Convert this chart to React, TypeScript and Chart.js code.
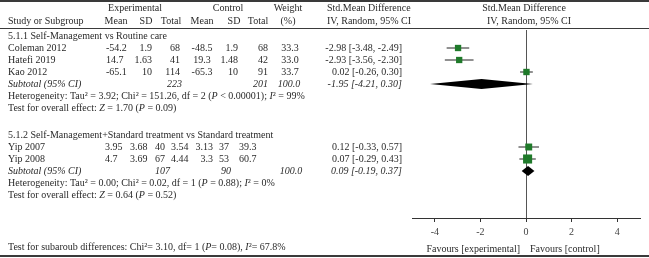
import React, { useEffect, useRef } from 'react';
import { Chart, registerables } from 'chart.js';
Chart.register(...registerables);

// ---------- data ----------
const subgroupTitles = [
  '5.1.1 Self-Management vs Routine care',
  '5.1.2 Self-Management+Standard treatment vs Standard treatment',
];
const studies = ['Coleman 2012', 'Hatefi 2019', 'Kao 2012', 'Yip 2007', 'Yip 2008'];
const studyGroup = [0, 0, 0, 1, 1];
const expMean = ['-54.2', '14.7', '-65.1', '3.95', '4.7'];
const expSD = ['1.9', '1.63', '10', '3.68', '3.69'];
const expTotal = [68, 41, 114, 40, 67];
const ctrlMean = ['-48.5', '19.3', '-65.3', '3.54', '4.44'];
const ctrlSD = ['1.9', '1.48', '10', '3.13', '3.3'];
const ctrlTotal = [68, 42, 91, 37, 53];
const weight = [33.3, 33.0, 33.7, 39.3, 60.7];
const smd = [-2.98, -2.93, 0.02, 0.12, 0.07];
const ciLow = [-3.48, -3.56, -0.26, -0.33, -0.29];
const ciHigh = [-2.49, -2.3, 0.3, 0.57, 0.43];

const subExpTotal = [223, 107];
const subCtrlTotal = [201, 90];
const subSmd = [-1.95, 0.09];
const subLow = [-4.21, -0.19];
const subHigh = [0.3, 0.37];
const heterogeneity = [
  'Heterogeneity: Tau² = 3.92; Chi² = 151.26, df = 2 (*P* < 0.00001); *I*² = 99%',
  'Heterogeneity: Tau² = 0.00; Chi² = 0.02, df = 1 (*P* = 0.88); *I*² = 0%',
];
const overallEffect = [
  'Test for overall effect: *Z* = 1.70 (*P* = 0.09)',
  'Test for overall effect: *Z* = 0.64 (*P* = 0.52)',
];
const subgroupTest = 'Test for subaroub differences: Chi²= 3.10, df= 1 (*P*= 0.08), *I*²= 67.8%';
const xTicks = [-4, -2, 0, 2, 4];

// ---------- layout ----------
const W = 649;
const H = 258;
const FONT = '"Liberation Serif", "DejaVu Serif", serif';
const FS = 10;
const TEXT = '#2a2a2a';
const GREEN = '#1f7a2a';
const groupBase = [0.5, 8.75];
const Y_MAX = 188 / 12;

type Col = { x: number; a: CanvasTextAlign };
const colsByGroup: Col[][] = [
  [
    { x: 106, a: 'left' },
    { x: 152, a: 'right' },
    { x: 180, a: 'right' },
    { x: 202, a: 'center' },
    { x: 238, a: 'right' },
    { x: 268, a: 'right' },
    { x: 290, a: 'center' },
  ],
  [
    { x: 105, a: 'left' },
    { x: 130, a: 'left' },
    { x: 155, a: 'left' },
    { x: 171, a: 'left' },
    { x: 213, a: 'right' },
    { x: 219, a: 'left' },
    { x: 239, a: 'left' },
  ],
];
const subCols: Col[][] = [
  [
    { x: 182, a: 'right' },
    { x: 268, a: 'right' },
    { x: 289, a: 'center' },
  ],
  [
    { x: 155, a: 'left' },
    { x: 221, a: 'left' },
    { x: 291, a: 'center' },
  ],
];

function studyRow(i: number) {
  const g = studyGroup[i];
  const idx = studyGroup.slice(0, i).filter((v) => v === g).length;
  return groupBase[g] + 1 + idx;
}
function groupCount(g: number) {
  return studyGroup.filter((v) => v === g).length;
}
function fmt(v: number) {
  return v.toFixed(2);
}
function ciText(e: number, l: number, h: number) {
  return `${fmt(e)} [${fmt(l)}, ${fmt(h)}]`;
}

function setFont(ctx: CanvasRenderingContext2D, italic: boolean) {
  ctx.font = `${italic ? 'italic ' : ''}${FS}px ${FONT}`;
}

function drawRich(
  ctx: CanvasRenderingContext2D,
  str: string,
  x: number,
  y: number,
  align: CanvasTextAlign = 'left',
  baseItalic = false
) {
  const parts = str.split('*');
  let total = 0;
  parts.forEach((p, i) => {
    setFont(ctx, baseItalic !== (i % 2 === 1));
    total += ctx.measureText(p).width;
  });
  let cx = x;
  if (align === 'center') cx = x - total / 2;
  else if (align === 'right') cx = x - total;
  ctx.textAlign = 'left';
  ctx.textBaseline = 'middle';
  ctx.fillStyle = TEXT;
  parts.forEach((p, i) => {
    setFont(ctx, baseItalic !== (i % 2 === 1));
    ctx.fillText(p, cx, y + 0.5);
    cx += ctx.measureText(p).width;
  });
}

const tablePlugin = {
  id: 'forestTable',
  afterDatasetsDraw(chart: any) {
    const ctx: CanvasRenderingContext2D = chart.ctx;
    const xs = chart.scales.x;
    const ys = chart.scales.y;
    ctx.save();
    ctx.fillStyle = '#000';
    subSmd.forEach((e, g) => {
      const yy = ys.getPixelForValue(groupBase[g] + 1 + groupCount(g));
      const l = xs.getPixelForValue(subLow[g]);
      const h = xs.getPixelForValue(subHigh[g]);
      const c = xs.getPixelForValue(e);
      ctx.beginPath();
      ctx.moveTo(l, yy);
      ctx.lineTo(c, yy - 5);
      ctx.lineTo(h, yy);
      ctx.lineTo(c, yy + 5);
      ctx.closePath();
      ctx.fill();
    });
    ctx.restore();
  },
  afterDraw(chart: any) {
    const ctx: CanvasRenderingContext2D = chart.ctx;
    const ys = chart.scales.y;
    ctx.save();
    // rules
    ctx.fillStyle = '#3a3a3a';
    ctx.fillRect(0, 0, W, 2);
    ctx.fillRect(0, 28, W, 1);
    ctx.fillRect(0, 255, W, 2);

    // header
    drawRich(ctx, 'Experimental', 135, 8, 'center');
    drawRich(ctx, 'Control', 228, 8, 'center');
    drawRich(ctx, 'Weight', 288, 8, 'center');
    drawRich(ctx, 'Std.Mean Difference', 327, 8, 'left');
    drawRich(ctx, 'Std.Mean Difference', 524, 8, 'center');
    drawRich(ctx, 'Study or Subgroup', 8, 21, 'left');
    drawRich(ctx, 'Mean', 116, 21, 'center');
    drawRich(ctx, 'SD', 146, 21, 'center');
    drawRich(ctx, 'Total', 171, 21, 'center');
    drawRich(ctx, 'Mean', 202, 21, 'center');
    drawRich(ctx, 'SD', 234, 21, 'center');
    drawRich(ctx, 'Total', 258, 21, 'center');
    drawRich(ctx, '(%)', 288, 21, 'center');
    drawRich(ctx, 'IV, Random, 95% CI', 327, 21, 'left');
    drawRich(ctx, 'IV, Random, 95% CI', 529, 21, 'center');

    // groups
    subgroupTitles.forEach((t, g) => {
      const base = groupBase[g];
      drawRich(ctx, t, 8, ys.getPixelForValue(base), 'left');
      const n = groupCount(g);
      const sy = ys.getPixelForValue(base + 1 + n);
      drawRich(ctx, 'Subtotal (95% CI)', 8, sy, 'left', true);
      const sc = subCols[g];
      drawRich(ctx, String(subExpTotal[g]), sc[0].x, sy, sc[0].a, true);
      drawRich(ctx, String(subCtrlTotal[g]), sc[1].x, sy, sc[1].a, true);
      drawRich(ctx, '100.0', sc[2].x, sy, sc[2].a, true);
      drawRich(ctx, ciText(subSmd[g], subLow[g], subHigh[g]), 402, sy, 'right', true);
      drawRich(ctx, heterogeneity[g], 8, ys.getPixelForValue(base + 2 + n), 'left');
      drawRich(ctx, overallEffect[g], 8, ys.getPixelForValue(base + 3 + n), 'left');
    });

    // studies
    studies.forEach((s, i) => {
      const y = ys.getPixelForValue(studyRow(i));
      const c = colsByGroup[studyGroup[i]];
      const vals = [
        expMean[i],
        expSD[i],
        String(expTotal[i]),
        ctrlMean[i],
        ctrlSD[i],
        String(ctrlTotal[i]),
        weight[i].toFixed(1),
      ];
      drawRich(ctx, s, 8, y, 'left');
      vals.forEach((v, k) => drawRich(ctx, v, c[k].x, y, c[k].a));
      drawRich(ctx, ciText(smd[i], ciLow[i], ciHigh[i]), 402, y, 'right');
    });

    drawRich(ctx, subgroupTest, 8, 247, 'left');
    drawRich(ctx, 'Favours [experimental]', 520, 248.5, 'right');
    drawRich(ctx, 'Favours [control]', 530, 248.5, 'left');
    ctx.restore();
  },
};

export default function App() {
  const ref = useRef<HTMLCanvasElement>(null);
  useEffect(() => {
    document.body.style.margin = '0';
    const canvas = ref.current!;
    const points = studies.map((_, i) => ({ x: smd[i], y: studyRow(i) }));
    const radii = weight.map((w) => (3 + w * 0.1) / Math.SQRT2);
    const whiskers = studies.map((s, i) => ({
      type: 'line' as const,
      label: s + ' CI',
      data: [
        { x: ciLow[i], y: studyRow(i) },
        { x: ciHigh[i], y: studyRow(i) },
      ],
      borderColor: '#222',
      borderWidth: 1,
      pointRadius: 0,
      showLine: true,
      order: 2,
    }));
    const chart = new Chart(canvas, {
      type: 'scatter',
      data: {
        datasets: [
          {
            label: 'SMD',
            data: points,
            pointStyle: 'rect',
            pointRadius: radii,
            pointBackgroundColor: GREEN,
            pointBorderColor: GREEN,
            pointBorderWidth: 0,
            order: 1,
          } as any,
          ...whiskers,
        ],
      },
      options: {
        responsive: false,
        animation: false,
        devicePixelRatio: 1,
        events: [],
        layout: { padding: { left: 412, right: 9, top: 30, bottom: 16 } },
        plugins: { legend: { display: false }, tooltip: { enabled: false } },
        scales: {
          x: {
            type: 'linear',
            min: -5,
            max: 5,
            afterBuildTicks: (scale: any) => {
              scale.ticks = xTicks.map((v) => ({ value: v }));
            },
            grid: {
              drawOnChartArea: true,
              drawTicks: true,
              tickLength: 4,
              color: (c: any) => (c.tick && c.tick.value === 0 ? '#555' : 'rgba(0,0,0,0)'),
              tickColor: '#333',
              lineWidth: 1,
            },
            border: { display: true, color: '#333', width: 1 },
            ticks: {
              padding: 4,
              color: '#444',
              font: { family: FONT, size: FS },
              callback: (v: any) => String(v),
            },
          },
          y: {
            type: 'linear',
            display: false,
            min: 0,
            max: Y_MAX,
            reverse: true,
          },
        },
      },
      plugins: [tablePlugin],
    });
    return () => chart.destroy();
  }, []);
  return (
    <canvas
      ref={ref}
      width={W}
      height={H}
      style={{ display: 'block', width: W, height: H }}
    />
  );
}
